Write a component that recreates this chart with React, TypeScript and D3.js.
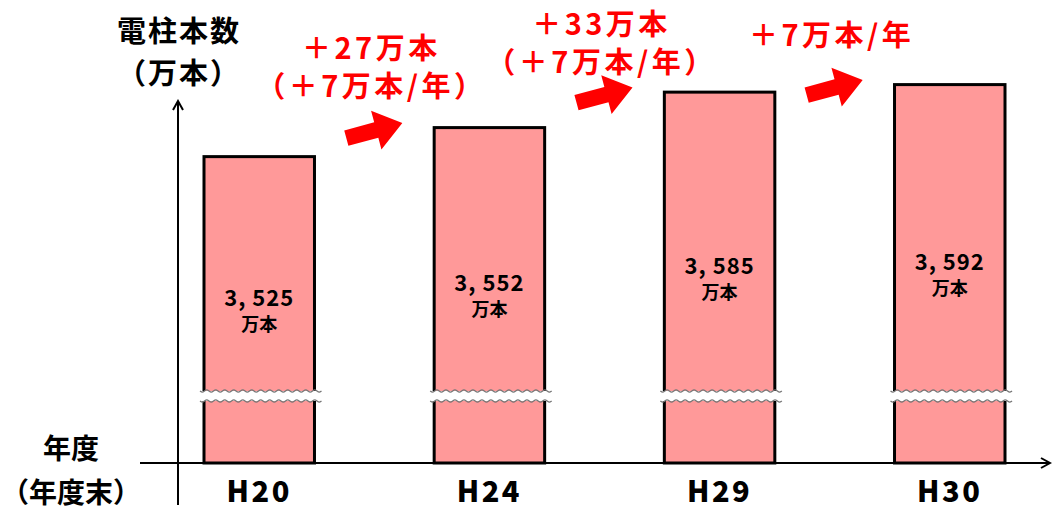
import React from 'react';
import * as d3 from 'd3';

const years = ['H20', 'H24', 'H29', 'H30'];
const counts = [3525, 3552, 3585, 3592];
const increments = [
  ['＋27万本', '（＋7万本/年）'],
  ['＋33万本', '（＋7万本/年）'],
  ['＋7万本/年'],
];
const yTitle = ['電柱本数', '（万本）'];
const xTitle = ['年度', '（年度末）'];

const W = 1054;
const H = 510;
const FONT = '"Noto Sans CJK JP", "Noto Sans", sans-serif';
const RED = '#ff0000';

const App = () => {
  const axisY = 463;
  const axisX = 178;
  const breakTop = 391;
  const breakBottom = 401;
  // first line of each annotation block
  const noteTop = [46, 22, 33];
  const noteGap = 38;

  const x = d3.scaleBand().domain(years).range([204, 1005]).paddingInner(0.52).paddingOuter(0);
  const y = d3.scaleLinear().domain([3240, 3600]).range([axisY, 76]);
  const bw = x.bandwidth();

  // wavy break line across a bar
  const wave = (x0: number, x1: number, yy: number) => {
    const pts: [number, number][] = [];
    for (let px = x0; px <= x1; px += 2.25) {
      pts.push([px, yy + 1.8 * Math.sin(((px - x0) / 9) * Math.PI * 2)]);
    }
    return d3.line().curve(d3.curveBasis)(pts) || '';
  };

  const fmt = (v: number) => d3.format(',')(v).replace(',', ', ');

  // block arrow pointing right, centred at 0,0
  const arrowPath = 'M-29,-8 L2,-8 L2,-20 L29,0 L2,20 L2,8 L-29,8 Z';

  return (
    <svg width={W} height={H} style={{ position: 'absolute', left: 0, top: 0, background: '#fff' }}>
      <defs>
        <marker id="head" viewBox="0 0 12 12" refX="10" refY="6" markerWidth="12" markerHeight="12" markerUnits="userSpaceOnUse" orient="auto">
          <path d="M1,1 L10,6 L1,11" fill="none" stroke="#000" strokeWidth="2" />
        </marker>
      </defs>

      {/* bars */}
      {years.map((k, i) => {
        const bx = x(k) as number;
        const top = y(counts[i]);
        const mid = (top + axisY) / 2;
        return (
          <g key={k}>
            <rect x={bx} y={top} width={bw} height={axisY - top} fill="#ff9999" stroke="#000" strokeWidth={3} />
            <rect x={bx - 5} y={breakTop} width={bw + 14} height={breakBottom - breakTop} fill="#fff" />
            <path d={wave(bx - 4, bx + bw + 8, breakTop)} fill="none" stroke="#777" strokeWidth={1.3} />
            <path d={wave(bx - 4, bx + bw + 8, breakBottom)} fill="none" stroke="#777" strokeWidth={1.3} />
            <text x={bx + bw / 2} y={mid - 14} textAnchor="middle" dominantBaseline="central"
              fontFamily={FONT} fontWeight="bold" fontSize={22} letterSpacing={1} fill="#000">{fmt(counts[i])}</text>
            <text x={bx + bw / 2} y={mid + 13} textAnchor="middle" dominantBaseline="central"
              fontFamily={FONT} fontWeight="bold" fontSize={18} fill="#000">万本</text>
            <text x={bx + bw / 2} y={489} textAnchor="middle" dominantBaseline="central"
              fontFamily={FONT} fontWeight="900" fontSize={29} letterSpacing={2.5} fill="#000">{k}</text>
          </g>
        );
      })}

      {/* axes */}
      <line x1={axisX} y1={505} x2={axisX} y2={101} stroke="#000" strokeWidth={2} markerEnd="url(#head)" />
      <line x1={140} y1={axisY} x2={1050} y2={axisY} stroke="#000" strokeWidth={2} markerEnd="url(#head)" />

      {/* growth arrows and annotations */}
      {increments.map((lines, i) => {
        const cx = ((x(years[i]) as number) + bw + (x(years[i + 1]) as number)) / 2;
        const cy = y(counts[i + 1]) + 3;
        return (
          <g key={i}>
            <path d={arrowPath} fill={RED} transform={`translate(${cx},${cy}) rotate(-15)`} />
            {lines.map((t, j) => (
              <text key={j} x={cx - 3} y={noteTop[i] + j * noteGap} textAnchor="middle" dominantBaseline="central"
                fontFamily={FONT} fontWeight="bold" fontSize={29} letterSpacing={3.5} fill={RED}>{t}</text>
            ))}
          </g>
        );
      })}

      {/* axis titles */}
      {yTitle.map((t, j) => (
        <text key={t} x={179} y={29 + j * 42} textAnchor="middle" dominantBaseline="central"
          fontFamily={FONT} fontWeight="bold" fontSize={29} letterSpacing={2} fill="#000">{t}</text>
      ))}
      {xTitle.map((t, j) => (
        <text key={t} x={71} y={447 + j * 44} textAnchor="middle" dominantBaseline="central"
          fontFamily={FONT} fontWeight="bold" fontSize={28} fill="#000">{t}</text>
      ))}
    </svg>
  );
};

export default App;
